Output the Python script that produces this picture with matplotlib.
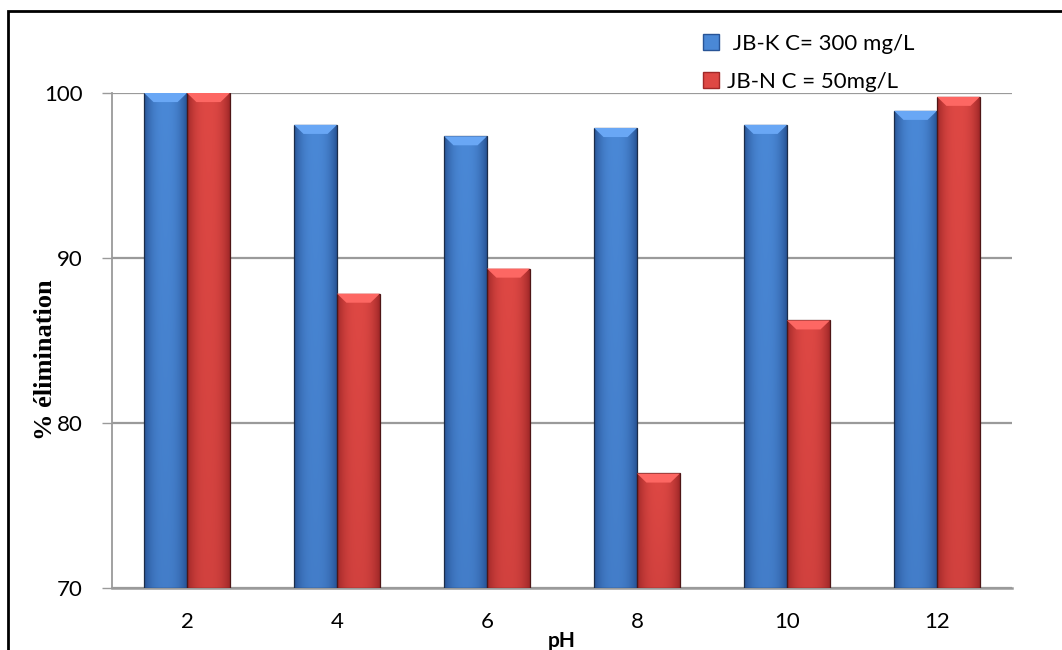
import numpy as np
import matplotlib
matplotlib.use('Agg')
import matplotlib.pyplot as plt
from matplotlib.patches import Rectangle, Polygon

ph_labels = ['2', '4', '6', '8', '10', '12']
jbk_300 = [100.0, 98.07, 97.38, 97.88, 98.07, 98.92]
jbn_50 = [100.0, 87.84, 89.36, 76.94, 86.22, 99.77]

series_names = [' JB-K C= 300 mg/L', 'JB-N C = 50mg/L']
blue_light, blue_dark = np.array([74, 136, 214]) / 255, np.array([40, 84, 150]) / 255
red_light, red_dark = np.array([222, 72, 68]) / 255, np.array([160, 40, 40]) / 255


def shaded_bar(ax, x, w, top, base, c_light, c_dark, bevel, edge):
    # horizontal gradient: darker edges, light centre, slightly darker at bottom
    u = np.linspace(-1, 1, 60)
    v = np.linspace(0, 1, 80)[:, None]
    k = 1 - np.abs(u) ** 2.5
    k = k[None, :] * (0.8 + 0.2 * (1 - v))
    img = c_dark + (c_light - c_dark) * k[..., None]
    rect = Rectangle((x - w / 2, base), w, top - base, facecolor='none',
                     edgecolor=edge, lw=0.9, zorder=4)
    ax.add_patch(rect)
    im = ax.imshow(img, extent=(x - w / 2, x + w / 2, base, top), origin='upper',
                   aspect='auto', zorder=3, interpolation='bilinear')
    im.set_clip_path(rect)
    # top bevel
    dx = w * 0.22
    lighter = np.clip(c_light + 0.12, 0, 1)
    ax.add_patch(Polygon([(x - w / 2, top), (x + w / 2, top), (x + w / 2 - dx, top - bevel),
                          (x - w / 2 + dx, top - bevel)], closed=True, facecolor=lighter,
                         edgecolor='none', zorder=4))


fig = plt.figure(figsize=(10.62, 6.5), dpi=100)
ax = fig.add_axes([112 / 1062, 1 - 588 / 650, 900 / 1062, 495 / 650])

x = np.arange(len(ph_labels))
w = 0.286
for i in range(len(x)):
    shaded_bar(ax, x[i] - w / 2, w, jbk_300[i], 70, blue_light, blue_dark, 0.55, '#1c2c48')
    shaded_bar(ax, x[i] + w / 2, w, jbn_50[i], 70, red_light, red_dark, 0.55, '#4e1616')

ax.set_xlim(-0.5, len(x) - 0.5)
ax.set_ylim(70, 100)
ax.set_yticks([70, 80, 90, 100])
ax.set_xticks(x)
ax.set_xticklabels(ph_labels)
ax.yaxis.grid(True, color='#9a9a9a', lw=1.6, zorder=1)
ax.set_axisbelow(True)
for s in ['top', 'right']:
    ax.spines[s].set_visible(False)
ax.spines['left'].set_color('#9a9a9a')
ax.spines['bottom'].set_color('#9a9a9a')
ax.spines['left'].set_linewidth(1.3)
ax.spines['bottom'].set_linewidth(1.8)
ax.spines['left'].set_zorder(5)
ax.tick_params(axis='y', length=7, width=1, color='#9a9a9a', labelsize=16, pad=14)
ax.tick_params(axis='x', length=0, labelsize=16, pad=17)
for t in ax.get_xticklabels() + ax.get_yticklabels():
    t.set_fontfamily('Lato')

fig.text(562 / 1062, 1 - 641 / 650, 'pH', ha='center', va='center',
         fontsize=15, fontweight='bold', family='Lato')
fig.text(46 / 1062, 1 - 360 / 650, '% élimination', ha='center', va='center',
         rotation=90, fontsize=19, fontweight='bold', family='Liberation Serif')

handles = [Rectangle((0, 0), 1, 1, facecolor=blue_light, edgecolor=blue_dark),
           Rectangle((0, 0), 1, 1, facecolor=red_light, edgecolor=red_dark)]
fig.legend(handles, series_names, loc='upper left', bbox_to_anchor=(683 / 1062, 1 - 14 / 650),
           frameon=False, handlelength=0.7, handleheight=0.7,
           handletextpad=0.4, labelspacing=0.8, prop={'family': 'Lato', 'size': 16})

# outer frame
fig.add_artist(Rectangle((8 / 1062, -0.1), 1.2, 1.1 - 11 / 650, transform=fig.transFigure,
                         fill=False, edgecolor='black', lw=2))

fig.savefig('out.png', dpi=100)
